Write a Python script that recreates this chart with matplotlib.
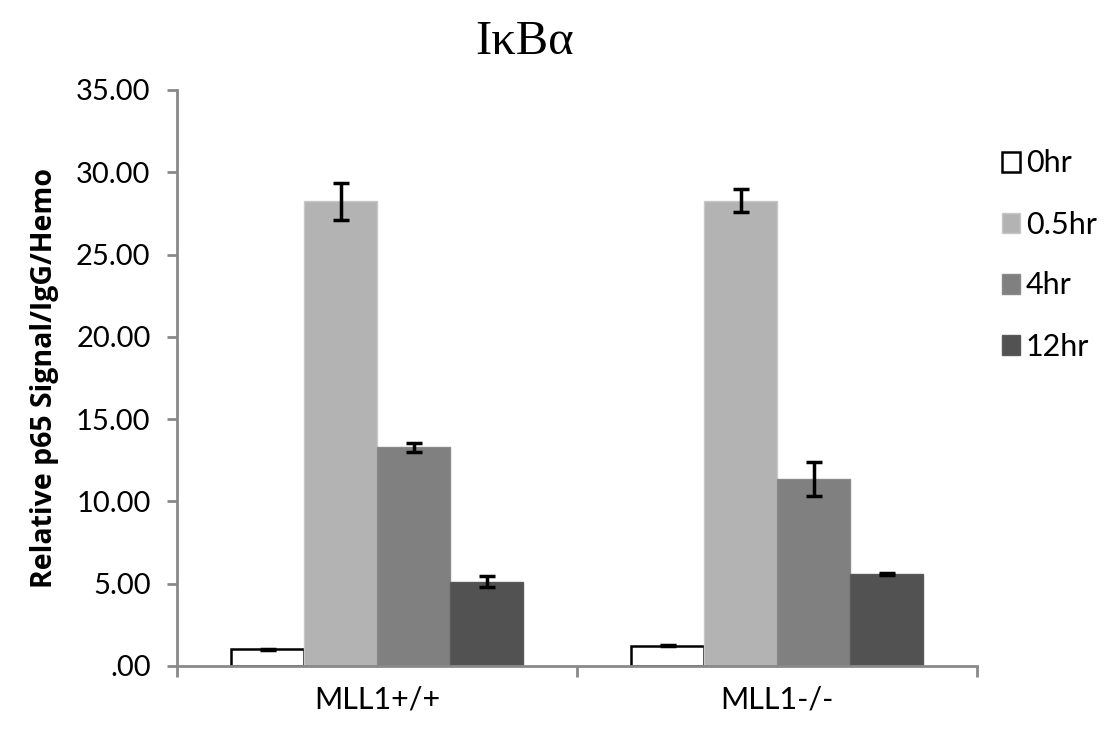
import matplotlib
matplotlib.use("Agg")
import matplotlib.pyplot as plt
import numpy as np

groups = ["MLL1+/+", "MLL1-/-"]
series = ["0hr", "0.5hr", "4hr", "12hr"]
values = {
    "0hr":   [1.01, 1.24],
    "0.5hr": [28.25, 28.28],
    "4hr":   [13.28, 11.38],
    "12hr":  [5.12, 5.60],
}
errors = {
    "0hr":   [0.05, 0.04],
    "0.5hr": [1.12, 0.72],
    "4hr":   [0.25, 1.02],
    "12hr":  [0.33, 0.08],
}
yticks = [0, 5, 10, 15, 20, 25, 30, 35]
ytick_labels = [".00", "5.00", "10.00", "15.00", "20.00", "25.00", "30.00", "35.00"]

colors = {"0hr": "white", "0.5hr": "#b3b3b3", "4hr": "#808080", "12hr": "#525252"}
edges = {"0hr": "black", "0.5hr": "#c8c8c8", "4hr": "#8a8a8a", "12hr": "#5a5a5a"}

fig = plt.figure(figsize=(11.04, 7.38), dpi=100)
ax = fig.add_axes([177/1104, 1-666/738, 800/1104, 576/738])

width = 0.1825
x = np.arange(len(groups))
for i, s in enumerate(series):
    pos = x + (i - 1.5) * width
    ax.bar(pos, values[s], width, color=colors[s], edgecolor=edges[s],
           linewidth=1.8 if s == "0hr" else 1.0, label=s, zorder=2)
    ax.errorbar(pos, values[s], yerr=errors[s], fmt="none", ecolor="black",
                elinewidth=2.5, capsize=5.5, capthick=2.5, zorder=3)

ax.set_xlim(-0.5, 1.5)
ax.set_ylim(0, 35)
ax.set_yticks(yticks)
ax.set_yticklabels(ytick_labels, fontsize=21, fontfamily="Lato")
ax.set_xticks([-0.5, 0.5, 1.5])
ax.set_xticklabels([])
ax.set_xticks(x, minor=True)
ax.set_xticklabels(groups, minor=True, fontsize=22, fontfamily="Lato")
ax.tick_params(axis="x", which="minor", length=0, pad=14)
ax.tick_params(axis="x", which="major", length=8, width=2, color="#898989", direction="out")
ax.tick_params(axis="y", length=7, width=2, color="#898989", direction="out", pad=12)

for sp in ["top", "right"]:
    ax.spines[sp].set_visible(False)
for sp in ["left", "bottom"]:
    ax.spines[sp].set_color("#898989")
    ax.spines[sp].set_linewidth(2)

ax.set_ylabel("Relative p65 Signal/IgG/Hemo", fontsize=20.5, fontweight="bold",
              fontfamily="Open Sans", labelpad=12)

fig.text(525/1104, 1-42/738, "IκBα", fontsize=35, fontfamily="Liberation Serif",
         ha="center", va="center")

leg = ax.legend(loc="upper left", bbox_to_anchor=(974/1104, 1-122/738),
                bbox_transform=fig.transFigure, frameon=False,
                prop={"family": "Lato", "size": 22}, handlelength=0.62,
                handleheight=0.62, handletextpad=0.18, labelspacing=1.08)

fig.savefig("out.png", dpi=100)
